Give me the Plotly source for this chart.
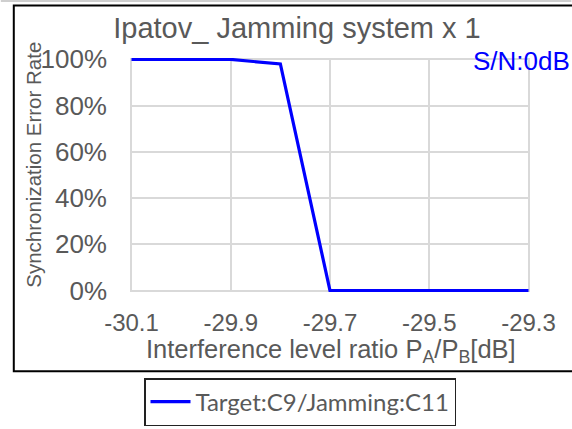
import plotly.graph_objects as go

# ---- data ----
x_ratio_db = [-30.1, -30.0, -29.9, -29.8, -29.7, -29.6, -29.5, -29.4, -29.3]
sync_error_rate = [1.00, 1.00, 1.00, 0.98, 0.00, 0.00, 0.00, 0.00, 0.00]
series_name = "Target:C9/Jamming:C11"
x_tick_vals = [-30.1, -29.9, -29.7, -29.5, -29.3]
y_tick_vals = [0, 0.2, 0.4, 0.6, 0.8, 1.0]
chart_title = "Ipatov_ Jamming system x 1"
sn_label = "S/N:0dB"
x_title = "Interference level ratio P<sub>A</sub>/P<sub>B</sub>[dB]"
y_title = "Synchronization Error Rate"

W, H = 572, 429
L, R, T, B = 129.5, 530.5, 57.6, 292.4  # plot area in pixels


def px2x(p):
    return (p - L) / (R - L)


def py2y(p):
    return (B - p) / (B - T)


GRAY = "#595959"
GRID = "#d9d9d9"

fig = go.Figure()
fig.add_trace(go.Scatter(
    x=x_ratio_db, y=sync_error_rate, mode="lines", name=series_name,
    line=dict(color="#0000ff", width=3.2),
))

fig.update_layout(
    template="none",
    width=W, height=H,
    margin=dict(l=L, r=W - R, t=T, b=H - B, pad=0, autoexpand=False),
    paper_bgcolor="white", plot_bgcolor="white",
    font=dict(family="Arial, Liberation Sans, sans-serif", color=GRAY),
    title=dict(text=chart_title, x=297 / W, xref="container", xanchor="center",
               y=1 - 28 / H, yref="container", yanchor="middle",
               font=dict(size=29, color=GRAY)),
    showlegend=True,
    legend=dict(orientation="h", x=300 / W, xref="container", xanchor="center",
                y=1 - 378 / H, yref="container", yanchor="top",
                itemwidth=40,
                bordercolor="#222222", borderwidth=1.5, bgcolor="white",
                font=dict(family="Lato, sans-serif", size=24, color=GRAY)),
    xaxis=dict(range=[-30.103, -29.297], tickvals=x_tick_vals,
               ticktext=[f"{v:.1f}" for v in x_tick_vals], automargin=False,
               showgrid=True, gridcolor=GRID, gridwidth=1.5, zeroline=False,
               showline=False, ticks="", ticklabelstandoff=14,
               tickfont=dict(size=24, color=GRAY)),
    yaxis=dict(range=[-0.006, 1.006], tickvals=y_tick_vals, tickformat=".0%",
               automargin=False,
               showgrid=True, gridcolor=GRID, gridwidth=1.5, zeroline=False,
               showline=False, ticks="", ticklabelstandoff=22,
               tickfont=dict(size=26, color=GRAY)),
)

# x-axis title
fig.add_annotation(text=x_title, xref="paper", yref="paper",
                   x=px2x(331), y=py2y(352), showarrow=False,
                   xanchor="center", yanchor="middle",
                   font=dict(size=25.5, color=GRAY))
# y-axis title
fig.add_annotation(text=y_title, textangle=-90, xref="paper", yref="paper",
                   x=px2x(32), y=py2y(165), showarrow=False,
                   xanchor="center", yanchor="middle",
                   font=dict(size=20.5, color=GRAY))
# S/N annotation
fig.add_annotation(text=sn_label, xref="paper", yref="paper",
                   x=px2x(573), y=py2y(60.5), showarrow=False,
                   xanchor="right", yanchor="middle",
                   font=dict(size=26, color="#0000ff"))

# chart border and neighbouring frame
fig.add_shape(type="rect", xref="paper", yref="paper",
              x0=px2x(13), x1=px2x(590), y0=py2y(372), y1=py2y(5),
              line=dict(color="black", width=2), fillcolor="rgba(0,0,0,0)")
fig.add_shape(type="line", xref="paper", yref="paper",
              x0=px2x(0), x1=px2x(572), y0=py2y(0.5), y1=py2y(0.5),
              line=dict(color="#bfbfbf", width=1.5))

fig.write_html("out.html", config={"displayModeBar": False},
               post_script="document.body.style.margin='0';document.body.style.padding='0';")
